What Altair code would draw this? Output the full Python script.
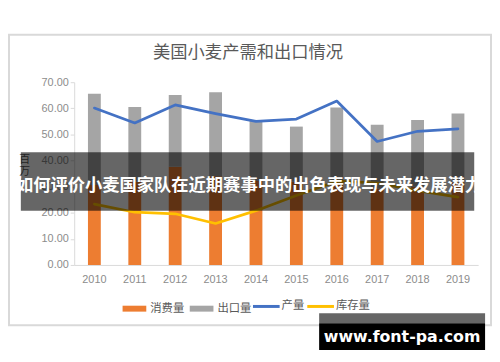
import altair as alt
import pandas as pd

years = ["2010", "2011", "2012", "2013", "2014", "2015", "2016", "2017", "2018", "2019"]
consumption = [30.6, 31.9, 37.6, 34.0, 32.2, 31.9, 31.9, 29.3, 30.0, 31.7]
exports = [35.0, 28.6, 27.5, 32.2, 23.0, 21.1, 28.4, 24.4, 25.5, 26.3]
production = [60.1, 54.4, 61.3, 58.0, 55.0, 55.9, 62.8, 47.3, 51.2, 52.1]
stocks = [23.3, 20.2, 19.6, 15.9, 20.8, 26.6, 32.1, 31.4, 28.5, 26.0]

bar_series = ["消费量", "出口量"]
line_series = ["产量", "库存量"]
bar_colors = ["#ED7D31", "#A5A5A5"]
line_colors = ["#4472C4", "#FFC000"]
y_ticks = [0, 10, 20, 30, 40, 50, 60, 70]

title_text = "美国小麦产需和出口情况"
banner_text = "如何评价小麦国家队在近期赛事中的出色表现与未来发展潜力"
watermark_text = "www.font-pa.com"
unit_chars = ["百", "万"]

bar_rows = []
for i, yr in enumerate(years):
    bar_rows.append({"year": yr, "series": bar_series[0], "value": consumption[i], "ord": 0})
    bar_rows.append({"year": yr, "series": bar_series[1], "value": exports[i], "ord": 1})
bar_df = pd.DataFrame(bar_rows)

line_rows = []
for i, yr in enumerate(years):
    line_rows.append({"year": yr, "series": line_series[0], "value": production[i]})
    line_rows.append({"year": yr, "series": line_series[1], "value": stocks[i]})
line_df = pd.DataFrame(line_rows)

one = alt.Data(values=[{"a": 1}])
CJK = "Noto Sans CJK SC"

x_axis = alt.Axis(title=None, labelAngle=0, ticks=False, domainColor="#d9d9d9",
                  labelColor="#8c8c8c", labelFont="Liberation Sans", labelFontSize=11,
                  labelPadding=9)
y_axis = alt.Axis(title=None, values=y_ticks, format=".2f", grid=False, labelOverlap=False,
                  tickCount=8, domainColor="#d9d9d9", tickColor="#d9d9d9", tickSize=4,
                  labelColor="#8c8c8c", labelFont="Liberation Sans", labelFontSize=11,
                  labelPadding=2)
x_scale = alt.Scale(paddingInner=0, paddingOuter=0)
y_scale = alt.Scale(domain=[0, 70], nice=False)

frame = alt.Chart(one).mark_rect(filled=False, stroke="#d9d9d9", strokeWidth=2).encode(
    x=alt.value(-66), x2=alt.value(422), y=alt.value(-48), y2=alt.value(246))

title = alt.Chart(one).mark_text(font=CJK, fontSize=17.5, color="#595959", align="center",
                                 baseline="middle").encode(
    x=alt.value(176), y=alt.value(-30), text=alt.value(title_text))

bars = alt.Chart(bar_df).mark_bar(size=13).encode(
    x=alt.X("year:O", sort=years, scale=x_scale, axis=x_axis),
    y=alt.Y("value:Q", stack="zero", scale=y_scale, axis=y_axis),
    fill=alt.Fill("series:N", scale=alt.Scale(domain=bar_series, range=bar_colors),
                  legend=alt.Legend(title=None, orient="none", direction="horizontal",
                                    legendX=49, legendY=217,
                                    symbolType="M-1,-0.25H1V0.25H-1Z", symbolSize=576,
                                    symbolStrokeWidth=0, labelFont=CJK, labelFontSize=11.5,
                                    labelColor="#595959", labelOffset=4, columnPadding=5)),
    order=alt.Order("ord:Q"),
)

lines = alt.Chart(line_df).mark_line(strokeWidth=2.75, strokeCap="round", strokeJoin="round").encode(
    x=alt.X("year:O", sort=years, scale=x_scale, axis=x_axis),
    y=alt.Y("value:Q", scale=y_scale, axis=y_axis),
    stroke=alt.Stroke("series:N", scale=alt.Scale(domain=line_series, range=line_colors), legend=None),
    detail="series:N",
)

# legend entries for the two line series (Excel style: short line + label)
leg_layers = []
leg_x = [181, 236]
for i, name in enumerate(line_series):
    leg_layers.append(alt.Chart(one).mark_rule(strokeWidth=3, color=line_colors[i]).encode(
        x=alt.value(leg_x[i]), x2=alt.value(leg_x[i] + 27), y=alt.value(227)))
    leg_layers.append(alt.Chart(one).mark_text(font=CJK, fontSize=11.5, color="#595959",
                                               align="left", baseline="middle").encode(
        x=alt.value(leg_x[i] + 29), y=alt.value(227), text=alt.value(name)))

unit_layers = []
for i, ch in enumerate(unit_chars):
    unit_layers.append(alt.Chart(one).mark_text(font=CJK, fontSize=11, color="#595959",
                                                align="center", baseline="middle").encode(
        x=alt.value(-50), y=alt.value(79 + 12 * i), text=alt.value(ch)))

banner = alt.Chart(one).mark_rect(fill="black", opacity=0.6).encode(
    x=alt.value(-54), x2=alt.value(405), y=alt.value(71), y2=alt.value(130))

banner_label = alt.Chart(one).mark_text(font=CJK, fontSize=17.5, fontWeight="bold", color="white",
                                        align="center", baseline="middle").encode(
    x=alt.value(177), y=alt.value(105), text=alt.value(banner_text))

wm_top = alt.Chart(one).mark_rect(fill="#666666").encode(
    x=alt.value(248), x2=alt.value(416), y=alt.value(234), y2=alt.value(244))
wm_box = alt.Chart(one).mark_rect(fill="black").encode(
    x=alt.value(248), x2=alt.value(416), y=alt.value(244), y2=alt.value(271))
wm_text = alt.Chart(one).mark_text(font="DejaVu Sans", fontSize=16, fontWeight="bold", color="white",
                                   align="center", baseline="middle").encode(
    x=alt.value(332), y=alt.value(258), text=alt.value(watermark_text))

chart = alt.layer(frame, title, bars, lines, *leg_layers, *unit_layers, banner, banner_label,
                  wm_top, wm_box, wm_text).resolve_scale(
    fill="independent", stroke="independent"
).properties(
    width=409, height=185,
    autosize=alt.AutoSizeParams(type="none"),
    padding={"left": 67, "top": 73, "right": 14, "bottom": 88},
).configure_view(stroke=None)

chart.save("out.html", embed_options={"renderer": "svg", "actions": False})
